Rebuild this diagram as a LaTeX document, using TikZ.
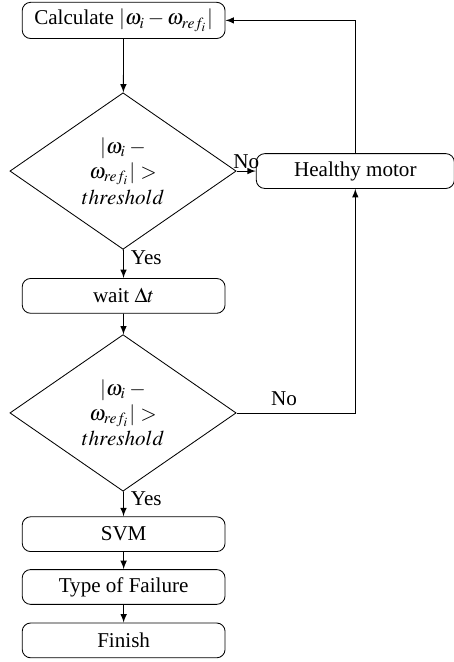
\documentclass[tikz,border=0pt]{standalone}
\usepackage{mathptmx}
\usepackage{fontspec}
\setmainfont{Liberation Serif}
\usetikzlibrary{shapes.geometric}
\tikzset{>=latex}
\tikzset{
  procbox/.style={draw,rounded corners,minimum width=3.38cm,minimum height=0.58cm},
  decbox/.style={draw,diamond,text width=1.5cm,align=center,inner sep=0pt,
    minimum width=3.77cm,minimum height=2.55cm}
}

\begin{document}
\begin{tikzpicture}
            \useasboundingbox (0,0) rectangle (7.55,-11.03);
            \node[procbox] (calc) at (2.06,-0.34) {Calculate $|\omega_i - \omega_{ref_i}|$};
            \node[decbox] (dec1) at (2.05,-2.85) {$|\omega_i - \omega_{ref_i}| > threshold$};
            \node[procbox,minimum width=3.3cm] (healthy) at (5.92,-2.85) {Healthy motor};
            \node[procbox] (wait) at (2.06,-4.93) {wait $\Delta t$};
            \node[decbox] (dec2) at (2.05,-6.88) {$|\omega_i - \omega_{ref_i}| > threshold$};
            \node[procbox] (svm) at (2.06,-8.9) {SVM};
            \node[procbox] (type) at (2.06,-9.78) {Type of Failure};
            \node[procbox] (finish) at (2.06,-10.67) {Finish};
            \draw[->] (calc) -- (dec1);
            \draw[->] (dec1) -- node[right,pos=0.3]{Yes} (wait);
            \draw[->] (dec1) -- node[above,inner sep=1pt]{No} (healthy);
            \draw[->] (wait) -- (dec2);
            \draw[->] (dec2) -- node[right,pos=0.3]{Yes} (svm);
            \draw[->] (dec2.east) -| node[above,pos=0.2]{No} (healthy.south);
            \draw[->] (healthy.north) |- (calc.east);
            \draw[->] (svm) -- (type);
            \draw[->] (type) -- (finish);
        \end{tikzpicture}
\end{document}
